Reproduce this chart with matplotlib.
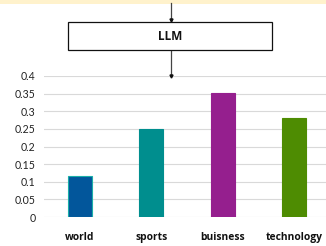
import matplotlib
matplotlib.use("Agg")
import matplotlib.pyplot as plt
from matplotlib.patches import Rectangle

categories = ["world", "sports", "buisness", "technology"]
values = [0.115, 0.25, 0.353, 0.282]
colors = ["#02569B", "#008E8E", "#951F8E", "#4E8C02"]
edges = ["#1AAFA8", "#008E8E", "#951F8E", "#4E8C02"]
yticks = [0, 0.05, 0.1, 0.15, 0.2, 0.25, 0.3, 0.35, 0.4]
ytick_labels = ["0", "0.05", "0.1", "0.15", "0.2", "0.25", "0.3", "0.35", "0.4"]

W, H = 326, 246
fig = plt.figure(figsize=(W/100, H/100), dpi=100)
plt.rcParams['font.family'] = ['Lato', 'DejaVu Sans']
BOLD = ['Open Sans', 'DejaVu Sans']

# top yellow strip
fig.patches.append(Rectangle((0, 1 - 3.5/H), 1, 3.5/H, transform=fig.transFigure,
                             facecolor="#FFF2CC", edgecolor="none", zorder=0))

ax = fig.add_axes([44/W, 29/H, 282/W, 141/H])
x = list(range(len(categories)))
ax.bar(x, values, width=0.34, color=colors, edgecolor=edges, linewidth=0.8, zorder=3)
ax.set_xlim(-0.5, -0.5 + 282/71.5)
ax.set_ylim(0, 0.4)
ax.set_yticks(yticks)
ax.set_yticklabels(ytick_labels, fontsize=7.6, color="#222222")
ax.set_xticks(x)
ax.set_xticklabels(categories, fontsize=7.4, fontweight="bold", color="#111111", family=BOLD)
ax.tick_params(axis="both", length=0)
ax.tick_params(axis="y", pad=6)
ax.tick_params(axis="x", pad=10.5)
ax.grid(axis="y", color="#D9D9D9", linewidth=0.8, zorder=0)
for s in ax.spines.values():
    s.set_visible(False)

# LLM box and arrows
def fx(px): return px / W
def fy(py): return 1 - py / H

fig.patches.append(Rectangle((fx(68), fy(50)), fx(272) - fx(68), fy(22) - fy(50),
                             transform=fig.transFigure, facecolor="white",
                             edgecolor="#111111", linewidth=0.9, zorder=2))
fig.text(fx(170), fy(36), "LLM", ha="center", va="center", fontsize=8.5,
         fontweight="bold", color="#111111", family=BOLD)
fig.add_artist(plt.Line2D([fx(170.5), fx(170.5)], [fy(3), fy(21)], transform=fig.transFigure,
                          color="#444444", linewidth=0.9))
fig.add_artist(plt.Line2D([fx(170.5)], [fy(19.5)], transform=fig.transFigure,
                          marker="v", markersize=2.2, color="#111111"))
fig.add_artist(plt.Line2D([fx(170.5), fx(170.5)], [fy(50), fy(75)], transform=fig.transFigure,
                          color="#444444", linewidth=0.9))
fig.add_artist(plt.Line2D([fx(170.5)], [fy(75.5)], transform=fig.transFigure,
                          marker="v", markersize=2.2, color="#111111"))

fig.savefig("out.png", dpi=100)
